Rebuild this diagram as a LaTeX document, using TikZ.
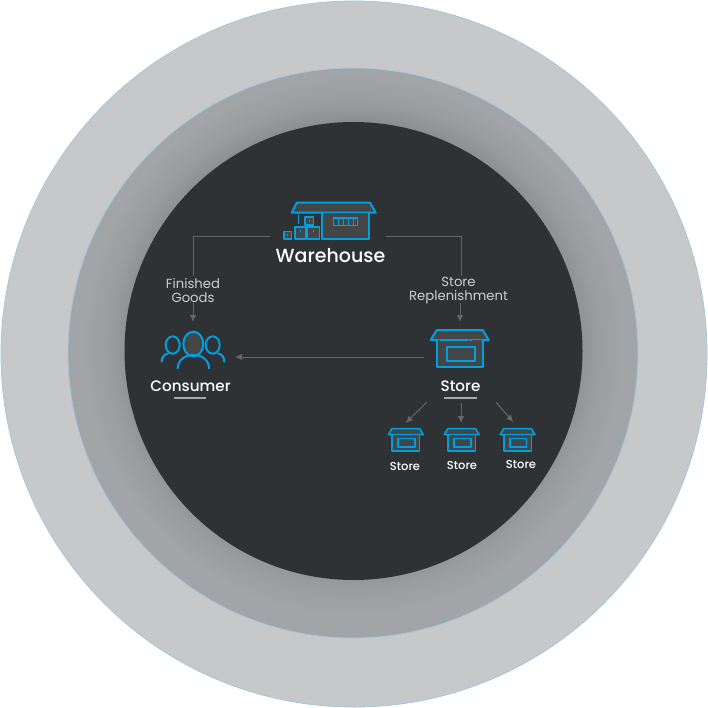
\documentclass[tikz,border=0pt]{standalone}
\usepackage{fontspec}
\setmainfont{Poppins}
\newfontfamily\mediumfont{Poppins Medium}
\usetikzlibrary{arrows.meta}
\definecolor{ringblue}{HTML}{A3C9D8}
\definecolor{outergrey}{HTML}{C7C8CA}
\definecolor{coredark}{HTML}{2E3235}
\definecolor{iconblue}{HTML}{00A0E0}
\definecolor{iconfill}{HTML}{444546}
\definecolor{linkgrey}{HTML}{646667}
\definecolor{labelgrey}{HTML}{CDCECF}
\definecolor{ruleGrey}{HTML}{A6A8A9}
\definecolor{ringA}{HTML}{85888B}
\definecolor{ringB}{HTML}{909396}
\definecolor{ringC}{HTML}{9A9DA0}
\definecolor{ringD}{HTML}{A2A5A8}
\pgfdeclareradialshading{ringshade}{\pgfpoint{0bp}{1.3bp}}{%
color(0bp)=(ringA);color(18.8bp)=(ringA);color(20bp)=(ringB);%
color(21.4bp)=(ringC);color(23.7bp)=(ringD);color(50bp)=(ringD)}
\tikzset{
iconline/.style={draw=iconblue,line width=2pt,line join=round,line cap=round},
iconbox/.style={inner sep=0pt,outer sep=0pt},
link/.style={draw=linkgrey,line width=1pt},
linkarrow/.style={link,-{Latex[length=7pt,width=6.5pt]}},
mainlabel/.style={text=white,font=\mediumfont\fontsize{15.2}{17}\selectfont,inner sep=0pt},
smalllabel/.style={text=white,font=\mediumfont\fontsize{11.5}{13}\selectfont,inner sep=0pt},
flowlabel/.style={text=labelgrey,align=center,inner sep=0pt,minimum height=27pt,font=\fontsize{13.2}{14}\selectfont},
underrule/.style={draw=ruleGrey,line width=1.6pt},
storeicon/.pic={
\path[iconline,fill=iconfill](-29,-9)--(-23,-19)--(23,-19)--(29,-9)--cycle;
\path[iconline,fill=iconfill](-23,-9)--(-23,18)--(23,18)--(23,-9);
\path[iconline](-13,-2.5)rectangle(15,11.5);
\path[iconline,line width=1pt](-19,-8.5)--(8,-8.5)(10,-8.5)--(12,-8.5);
}
}
\begin{document}
\begin{tikzpicture}[x=1pt,y=-1pt]
\useasboundingbox(0,0)rectangle(708,708);
% rings
\fill[outergrey,draw=ringblue,line width=.8pt](354,354)circle(353);
\shade[shading=ringshade](353,353)circle(285);
\draw[ringblue,line width=.8pt](353,353)circle(285);
\fill[coredark](353.5,351)circle(229);
% warehouse
\path[iconline,fill=iconfill](291.7,212.7)--(296.7,202.7)--(370,202.7)--(375.7,212.7)--cycle;
\path[iconline,fill=iconfill](322.3,212.7)--(322.3,239)--(369.3,239)--(369.3,212.7);
\path[iconline,line width=1.6pt](333.3,218.3)rectangle(357.3,225.7);
\path[iconline,line width=1pt](338.5,219)--(338.5,225)(343.5,219)--(343.5,225)(348.5,219)--(348.5,225)(353,219)--(353,225);
\path[iconline,line width=1pt](326.7,212.7)--(354.3,212.7)(355.7,212.7)--(358.3,212.7);
\path[iconline,line width=1.4pt](298.3,215)--(298.3,223.3);
\path[iconline,fill=iconfill,line width=1.6pt](305,217.3)rectangle(313.3,225.3);
\path[iconline,fill=iconfill,line width=1.6pt](294.7,227.3)rectangle(305.7,239);
\path[iconline,fill=iconfill,line width=1.6pt](307.3,227.3)rectangle(319.3,239);
\path[iconline,fill=iconfill,line width=1.6pt](284,231.7)rectangle(291.3,239);
\path[iconline,line width=.8pt](309.3,220)--(309.3,222)(300.2,230)--(300.2,232)(313.3,230)--(313.3,232)(287.6,234)--(287.6,235.5);
\node[mainlabel,font=\mediumfont\fontsize{19}{21}\selectfont](warehouse)at(330.5,256){Warehouse};
\coordinate(whleft)at(270,237);
\coordinate(whright)at(386,237);
% consumer
\node[iconbox,minimum width=64pt,minimum height=46pt](consumericon)at(193,345){};
\path[iconline,fill=iconfill](193.3,344)ellipse(10 and 12.3);
\path[iconline](172.7,345)ellipse(7 and 8.7);
\path[iconline](212.7,345)ellipse(7 and 8.7);
\path[iconline](177.7,368.3)..controls(177.7,360)and(185,355)..(193.3,355)..controls(201.7,355)and(209,360)..(209,368.3);
\path[iconline](161.7,361.7)..controls(161.7,357)and(164,354.5)..(168,353.5);
\path[iconline](224.3,361.7)..controls(224.3,357)and(222,354.5)..(218,353.5);
\node[mainlabel](consumer)at(190.5,386){Consumer};
\draw[underrule](174,398)--(206,398);
% store
\node[iconbox,minimum width=60pt,minimum height=54pt](storeicon)at(459.7,349){};
\pic at(storeicon.center){storeicon};
\node[mainlabel](store)at(460.5,386){Store};
\draw[underrule](444,398)--(477,398);
% small stores
\node[iconbox,minimum width=35pt,minimum height=34pt](storeA)at(405.8,440){};
\node[iconbox,minimum width=35pt,minimum height=34pt](storeB)at(461.7,440){};
\node[iconbox,minimum width=35pt,minimum height=34pt](storeC)at(517.5,440){};
\foreach \n in {storeA,storeB,storeC}{
\pic[scale=.6,iconline/.append style={line width=1.6pt}] at(\n.center){storeicon};
}
\node[smalllabel](labelA)at(405,466){Store};
\node[smalllabel](labelB)at(462,465){Store};
\node[smalllabel](labelC)at(521,464){Store};
% flow labels
\node[flowlabel](finished)at(193,291){Finished\\Goods};
\node[flowlabel](replenish)at(458.5,291){Store\\Replenishment};
% links
\coordinate(finishedtop)at(193,276);
\coordinate(finishedbot)at(193,303);
\coordinate(replentop)at(461,276);
\coordinate(replenbot)at(460,303);
\coordinate(storeout)at(424,357);
\coordinate(consumerin)at(235,357);
\coordinate(fanA)at(426.7,402.3);
\coordinate(fanB)at(461,403.3);
\coordinate(fanC)at(496,402.3);
\coordinate(fanCend)at(513.3,422);
\draw[link](whleft)-|(finishedtop);
\draw[linkarrow](finishedbot)--(consumericon.north);
\draw[link](whright)-|(replentop);
\draw[linkarrow](replenbot)--(replenbot|-storeicon.north);
\draw[linkarrow](storeout)--(consumerin);
\draw[linkarrow](fanA)--(storeA.north);
\draw[linkarrow](fanB)--(fanB|-storeB.north);
\draw[linkarrow](fanC)--(fanCend);
\end{tikzpicture}
\end{document}
